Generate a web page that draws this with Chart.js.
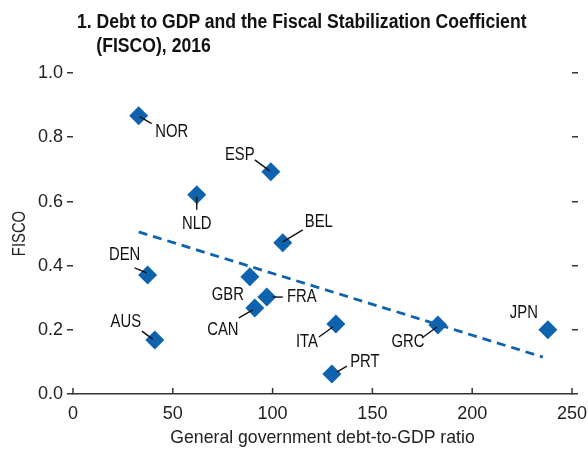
<!DOCTYPE html>
<html>
<head>
<meta charset="utf-8">
<script src="https://cdn.jsdelivr.net/npm/chart.js@4"></script>
<style>
  body { margin: 0; background: #fff; }
  #wrap { position: relative; width: 588px; height: 449px; }
  #title {
    position: absolute; left: 77px; top: 9px; white-space: nowrap;
    font: bold 20px "Liberation Sans", sans-serif;
    line-height: 24px; color: #111;
    transform: scaleX(0.88); transform-origin: 0 0;
  }
  #title .l2 { padding-left: 22px; }
</style>
</head>
<body>
<div id="wrap">
  <canvas id="chart" width="588" height="449"></canvas>
  <div id="title">1. Debt to GDP and the Fiscal Stabilization Coefficient<br><span class="l2">(FISCO), 2016</span></div>
</div>
<script>
const countries = ['NOR', 'ESP', 'NLD', 'BEL', 'DEN', 'GBR', 'FRA', 'CAN', 'AUS', 'ITA', 'PRT', 'GRC', 'JPN'];
const debtRatio = [32.9, 99.1, 62.0, 105.1, 37.4, 88.6, 97.1, 91.1, 41.0, 131.7, 129.7, 182.8, 237.9];
const fisco = [0.867, 0.692, 0.621, 0.471, 0.371, 0.365, 0.302, 0.268, 0.168, 0.218, 0.062, 0.215, 0.200];

// fitted line end points
const trendX = [32.9, 235.4];
const trendY = [0.505, 0.115];

const xTicks = [0, 50, 100, 150, 200, 250];
const yTicks = [0.0, 0.2, 0.4, 0.6, 0.8, 1.0];

// label placement, pixels from the marker: [dx, dy] and leader [x1, y1, x2, y2]
const labelOffsets = [[33, 16], [-31, -17], [0, 29], [36, -21], [-23, -20], [-22, 18], [35, 0],
                      [-32, 22], [-29, -18], [-29, 18], [33, -12], [-30, 17], [-24, -17]];
const leaders = [[1, 1, 13, 8], [-16, -12, -1, -1], [0, 2, 0, 15], [0, -1, 20, -13], [-13, -7, -1, -2], null, [6, 0, 16, 0],
                 [-16, 10, -2, 2], [-13, -9, -2, -1], [-17, 13, -3, 3], [5, -2, 15, -8], [-16, 13, -1, 2], null];

const blue = '#0f62ae';
const font = '"Liberation Sans", sans-serif';

// the original uses a condensed face; squeeze text horizontally around its anchor
const canvas = document.getElementById('chart');
const ctx = canvas.getContext('2d');
const rawFillText = ctx.fillText.bind(ctx);
function squeeze(t) {
  if (/^[\d.\s-]+$/.test(t)) return 0.95;
  if (/^[A-Z]+$/.test(t)) return 0.78;
  return 0.93;
}
ctx.fillText = function (text, x, y) {
  ctx.save();
  ctx.translate(x, y);
  ctx.scale(squeeze(String(text)), 1);
  rawFillText(text, 0, 0);
  ctx.restore();
};

const labelPlugin = {
  id: 'countryLabels',
  afterDatasetsDraw(chart) {
    const ctx = chart.ctx;
    const pts = chart.getDatasetMeta(0).data;
    const x = chart.scales.x;
    ctx.save();
    // x ticks point inward
    ctx.strokeStyle = '#333';
    ctx.lineWidth = 1.5;
    xTicks.forEach(v => {
      const px = x.getPixelForValue(v);
      ctx.beginPath();
      ctx.moveTo(px, x.top);
      ctx.lineTo(px, x.top - 6);
      ctx.stroke();
    });
    ctx.strokeStyle = '#111';
    ctx.lineWidth = 1.4;
    ctx.fillStyle = '#111';
    ctx.font = '19px ' + font;
    ctx.textAlign = 'center';
    ctx.textBaseline = 'middle';
    pts.forEach((p, i) => {
      const l = leaders[i];
      if (l) {
        ctx.beginPath();
        ctx.moveTo(p.x + l[0], p.y + l[1]);
        ctx.lineTo(p.x + l[2], p.y + l[3]);
        ctx.stroke();
      }
      ctx.fillText(countries[i], p.x + labelOffsets[i][0], p.y + labelOffsets[i][1]);
    });
    ctx.restore();
  }
};

new Chart(canvas, {
  type: 'scatter',
  data: {
    datasets: [{
      data: debtRatio.map((d, i) => ({ x: d, y: fisco[i] })),
      pointStyle: 'rectRot',
      pointRadius: 9.5,
      backgroundColor: blue,
      borderColor: blue,
      borderWidth: 0
    }, {
      type: 'line',
      data: trendX.map((d, i) => ({ x: d, y: trendY[i] })),
      borderColor: blue,
      borderWidth: 2.8,
      borderDash: [9, 6],
      pointRadius: 0,
      fill: false
    }]
  },
  options: {
    responsive: false,
    animation: false,
    layout: { padding: { top: 73, left: 0, right: 0, bottom: 0 } },
    plugins: { legend: { display: false }, tooltip: { enabled: false } },
    scales: {
      x: {
        type: 'linear', min: 0, max: 250,
        afterBuildTicks: s => { s.ticks = xTicks.map(v => ({ value: v })); },
        afterFit: s => { s.height = 55; s.paddingLeft = 0; s.paddingRight = 0; },
        grid: { display: false, drawTicks: false },
        border: { display: true, color: '#333', width: 1.5 },
        ticks: { color: '#222', padding: 8, maxRotation: 0, font: { family: font, size: 19 } },
        title: { display: true, text: 'General government debt-to-GDP ratio', color: '#222',
                 padding: { top: 0, bottom: 0 }, font: { family: font, size: 19 } }
      },
      y: {
        position: 'left', min: 0, max: 1,
        afterBuildTicks: s => { s.ticks = yTicks.map(v => ({ value: v })); },
        afterFit: s => { s.width = 73; },
        grid: { drawOnChartArea: false, drawTicks: true, tickLength: 6, color: '#333', lineWidth: 1.5 },
        border: { display: false },
        ticks: { color: '#222', padding: 4, font: { family: font, size: 19 }, callback: v => v.toFixed(1) },
        title: { display: true, text: 'FISCO', color: '#222', padding: { top: 8, bottom: 0 },
                 font: { family: font, size: 19 } }
      },
      y2: {
        position: 'right', min: 0, max: 1,
        afterBuildTicks: s => { s.ticks = yTicks.map(v => ({ value: v })); },
        afterFit: s => { s.width = 16; },
        grid: { drawOnChartArea: false, drawTicks: true, tickLength: 6, color: '#333', lineWidth: 1.5 },
        border: { display: false },
        ticks: { display: false }
      }
    }
  },
  plugins: [labelPlugin]
});
</script>
</body>
</html>
